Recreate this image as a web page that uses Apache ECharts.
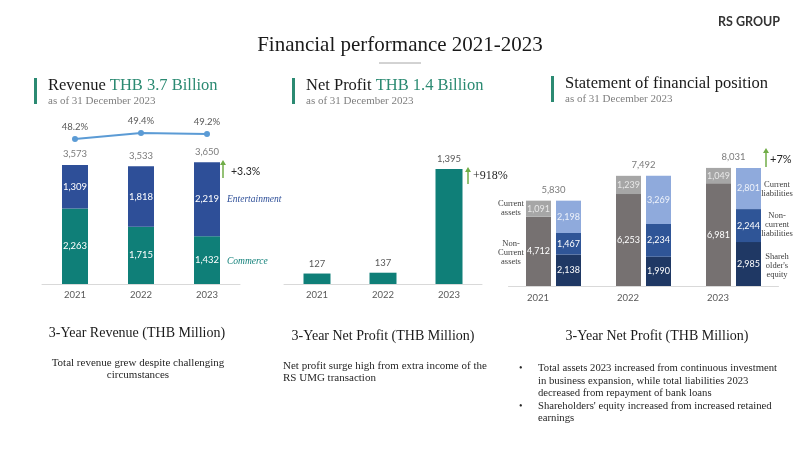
<!DOCTYPE html>
<html>
<head>
<meta charset="utf-8">
<script src="https://cdn.jsdelivr.net/npm/echarts@6/dist/echarts.min.js"></script>
<style>
html,body{margin:0;padding:0;background:#fff;}
#c{width:800px;height:450px;}
</style>
</head>
<body>
<div id="c"></div>
<script>
// ---- data ----
const years = ['2021', '2022', '2023'];
const commerce = [2263, 1715, 1432];
const entertainment = [1309, 1818, 2219];
const revenueTotal = [3573, 3533, 3650];
const marginPct = [48.2, 49.4, 49.2];
const netProfit = [127, 137, 1395];
const nonCurrentAssets = [4712, 6253, 6981];
const currentAssets = [1091, 1239, 1049];
const equity = [2138, 1990, 2985];
const nonCurrentLiab = [1467, 2234, 2244];
const currentLiab = [2198, 3269, 2801];
const totalAssets = [5830, 7492, 8031];

const SERIF = '"Liberation Serif", "DejaVu Serif", serif';
const SANS = 'Lato, "Open Sans", sans-serif';
const fmt = v => Number(v).toLocaleString('en-US');
const TEAL = '#0f7f78', BLUE = '#2e4f98', GREEN = '#70ad47', HEAD = '#2b8a72';

const chart = echarts.init(document.getElementById('c'), null, {renderer: 'canvas'});

const inLabel = {show: true, position: 'inside', color: '#fff', fontFamily: SANS, fontSize: 9.5, formatter: p => fmt(p.value)};
const inLabelS = Object.assign({}, inLabel, {fontSize: 9});
const catAxis = (gi, margin, extra) => Object.assign({
  type: 'category', gridIndex: gi, data: years,
  axisLine: {lineStyle: {color: '#d9d9d9'}}, axisTick: {show: false},
  axisLabel: {color: '#595959', fontFamily: SANS, fontSize: 9.5, margin: margin}
}, extra || {});
const valAxis = (gi, min, max) => ({type: 'value', gridIndex: gi, min: min, max: max, show: false, splitLine: {show: false}});
const totalLabel = (gx, gy, data, dist) => ({
  type: 'scatter', xAxisIndex: gx, yAxisIndex: gy, data: data, symbolSize: 1,
  itemStyle: {color: 'rgba(0,0,0,0)'}, silent: true,
  label: {show: true, position: 'top', distance: dist, color: '#595959', fontFamily: SANS, fontSize: 9.5, formatter: p => fmt(p.value)}
});

function arrow(x, yTop, yBot) {
  return [
    {type: 'line', shape: {x1: x, y1: yBot, x2: x, y2: yTop + 4}, style: {stroke: GREEN, lineWidth: 1.5}},
    {type: 'polygon', shape: {points: [[x - 3, yTop + 5], [x + 3, yTop + 5], [x, yTop]]}, style: {fill: GREEN}}
  ];
}
function txt(x, y, text, size, color, align, extra) {
  return {type: 'text', x: x, y: y, style: Object.assign({text: text, fontSize: size, fill: color, fontFamily: SERIF, align: align || 'left', verticalAlign: 'middle'}, extra || {})};
}
function header(x, y, a, b) {
  return [
    {type: 'rect', shape: {x: x - 14, y: y - 8, width: 3, height: 26}, style: {fill: HEAD}},
    {type: 'text', x: x, y: y, style: {text: '{a|' + a + '}' + (b ? '{a| }{b|' + b + '}' : ''), verticalAlign: 'middle',
      rich: {a: {fontSize: 16.5, fill: '#1a1a1a', fontFamily: SERIF}, b: {fontSize: 16.5, fill: HEAD, fontFamily: SERIF}}}},
    txt(x, y + 15, 'as of 31 December 2023', 11, '#7f7f7f')
  ];
}

const graphics = [].concat(
  [txt(749, 22, 'RS GROUP', 12.5, '#333', 'center', {fontFamily: SANS, fontWeight: 'bold'})],
  [txt(400, 45, 'Financial performance 2021-2023', 21, '#1a1a1a', 'center')],
  [{type: 'line', shape: {x1: 379, y1: 63, x2: 421, y2: 63}, style: {stroke: '#a6a6a6', lineWidth: 1}}],
  header(48, 86, 'Revenue', 'THB 3.7 Billion'),
  header(306, 86, 'Net Profit', 'THB 1.4 Billion'),
  header(565, 84, 'Statement of financial position'),
  arrow(223, 160, 178),
  [txt(231, 172, '+3.3%', 10.5, '#262626', 'left', {fontFamily: SANS})],
  [txt(227, 199, 'Entertainment', 9.5, BLUE, 'left', {fontStyle: 'italic'})],
  [txt(227, 261, 'Commerce', 9.5, TEAL, 'left', {fontStyle: 'italic'})],
  arrow(468, 167, 184),
  [txt(473, 176, '+918%', 12, '#262626', 'left')],
  arrow(766, 148, 167),
  [txt(770, 159, '+7%', 11, '#262626', 'left', {fontFamily: SANS})],
  [txt(511, 208, 'Current\nassets', 8.5, '#404040', 'center', {lineHeight: 9})],
  [txt(511, 253, 'Non-\nCurrent\nassets', 8.5, '#404040', 'center', {lineHeight: 9})],
  [txt(777, 189, 'Current\nliabilities', 8.5, '#404040', 'center', {lineHeight: 9})],
  [txt(777, 225, 'Non-\ncurrent\nliabilities', 8.5, '#404040', 'center', {lineHeight: 9})],
  [txt(777, 266, 'Shareh\nolder\'s\nequity', 8.5, '#404040', 'center', {lineHeight: 9})],
  [txt(137, 333, '3-Year Revenue (THB Million)', 14, '#1a1a1a', 'center')],
  [txt(138, 369, 'Total revenue grew despite challenging\ncircumstances', 11, '#262626', 'center', {lineHeight: 12})],
  [txt(383, 336, '3-Year Net Profit (THB Million)', 14, '#1a1a1a', 'center')],
  [txt(283, 372, 'Net profit surge high from extra income of the\nRS UMG transaction', 11, '#262626', 'left', {lineHeight: 11.5})],
  [txt(657, 336, '3-Year Net Profit (THB Million)', 14, '#1a1a1a', 'center')],
  [txt(519, 368, '•', 10, '#262626')],
  [txt(519, 406, '•', 10, '#262626')],
  [txt(538, 381, 'Total assets 2023 increased from continuous investment\nin business expansion, while total liabilities 2023\ndecreased from repayment of bank loans', 10.7, '#262626', 'left', {lineHeight: 12.5})],
  [txt(538, 412, 'Shareholders\' equity increased from increased retained\nearnings', 10.7, '#262626', 'left', {lineHeight: 12.5})]
);

const option = {
  animation: false,
  backgroundColor: '#fff',
  grid: [
    {left: 42, width: 198, top: 134, height: 150},
    {left: 42, width: 198, top: 120, height: 30},
    {left: 284, width: 198, top: 134, height: 150},
    {left: 508.5, width: 270, top: 136, height: 150}
  ],
  xAxis: [
    catAxis(0, 6),
    catAxis(1, 6, {show: false}),
    catAxis(2, 6),
    catAxis(3, 7, {axisLabel: {color: '#595959', fontFamily: SANS, fontSize: 9.5, margin: 7, padding: [0, 31, 0, 0]}})
  ],
  yAxis: [
    valAxis(0, 0, 4500),
    valAxis(1, 46, 52),
    valAxis(2, 0, 1820),
    valAxis(3, 0, 10200)
  ],
  series: [
    {name: 'Commerce', type: 'bar', stack: 'rev', xAxisIndex: 0, yAxisIndex: 0, barWidth: 26, data: commerce, itemStyle: {color: TEAL}, label: inLabel},
    {name: 'Entertainment', type: 'bar', stack: 'rev', xAxisIndex: 0, yAxisIndex: 0, barWidth: 26, data: entertainment, itemStyle: {color: BLUE}, label: inLabel},
    totalLabel(0, 0, revenueTotal, 5),
    {name: 'Margin', type: 'line', xAxisIndex: 1, yAxisIndex: 1, data: marginPct, symbol: 'circle', symbolSize: 6,
      itemStyle: {color: '#5b9bd5'}, lineStyle: {color: '#5b9bd5', width: 2},
      label: {show: true, position: 'top', distance: 4, color: '#595959', fontFamily: SANS, fontSize: 9.5, formatter: p => p.value.toFixed(1) + '%'}},
    {name: 'Net Profit', type: 'bar', xAxisIndex: 2, yAxisIndex: 2, barWidth: 27, data: netProfit, itemStyle: {color: TEAL},
      label: {show: true, position: 'top', distance: 5, color: '#595959', fontFamily: SANS, fontSize: 9.5, formatter: p => fmt(p.value)}},
    {name: 'Non-current assets', type: 'bar', stack: 'assets', xAxisIndex: 3, yAxisIndex: 3, barWidth: 25, barGap: '20%', data: nonCurrentAssets, itemStyle: {color: '#767171'}, label: inLabelS},
    {name: 'Current assets', type: 'bar', stack: 'assets', xAxisIndex: 3, yAxisIndex: 3, barWidth: 25, barGap: '20%', data: currentAssets, itemStyle: {color: '#a6a6a6'}, label: Object.assign({}, inLabelS, {color: '#e8e8e8'})},
    {name: 'Equity', type: 'bar', stack: 'liab', xAxisIndex: 3, yAxisIndex: 3, barWidth: 25, barGap: '20%', data: equity, itemStyle: {color: '#1f3864'}, label: inLabelS},
    {name: 'Non-current liabilities', type: 'bar', stack: 'liab', xAxisIndex: 3, yAxisIndex: 3, barWidth: 25, barGap: '20%', data: nonCurrentLiab, itemStyle: {color: '#2f5597'}, label: inLabelS},
    {name: 'Current liabilities', type: 'bar', stack: 'liab', xAxisIndex: 3, yAxisIndex: 3, barWidth: 25, barGap: '20%', data: currentLiab, itemStyle: {color: '#8faadc'}, label: Object.assign({}, inLabelS, {color: '#eef2fa'})},
    totalLabel(3, 3, totalAssets, 5)
  ],
  graphic: graphics
};
chart.setOption(option);
</script>
</body>
</html>
